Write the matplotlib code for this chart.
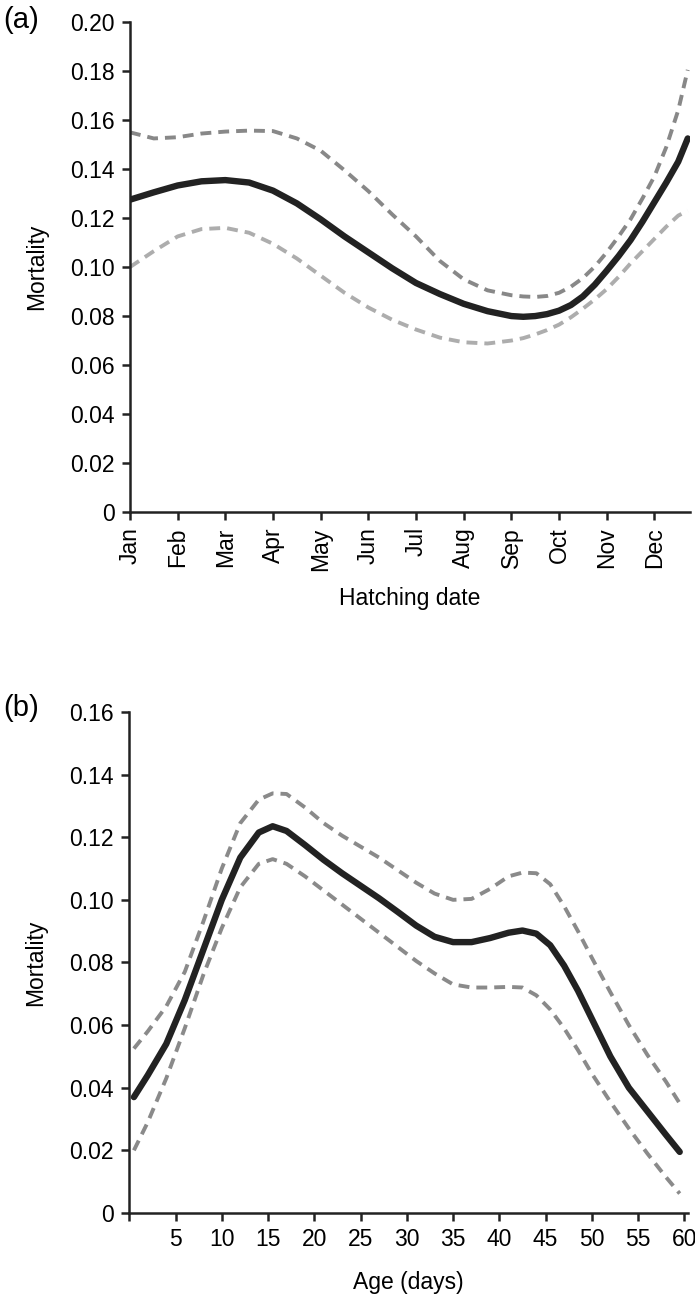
# panel a: mortalidad vs fecha de eclosion, panel b: mortalidad vs edad

import matplotlib.pyplot as plt
import numpy as np

plt.rcParams['font.family'] = ['Liberation Sans', 'DejaVu Sans']

# (a) meses desde el 1 de enero
meses = ['Jan', 'Feb', 'Mar', 'Apr', 'May', 'Jun', 'Jul', 'Aug', 'Sep', 'Oct', 'Nov', 'Dec']
x_a = [0, 0.5, 1, 1.5, 2, 2.5, 3, 3.5, 4, 4.5, 5, 5.5, 6, 6.5, 7, 7.5,
       8, 8.25, 8.5, 8.75, 9, 9.25, 9.5, 9.75, 10, 10.25, 10.5, 10.75, 11, 11.25, 11.5, 11.7]
media_a = [0.1275, 0.1305, 0.1333, 0.1350, 0.1355, 0.1345, 0.1312, 0.1260, 0.1195,
           0.1125, 0.1060, 0.0995, 0.0935, 0.0890, 0.0850, 0.0820,
           0.0800, 0.0797, 0.0800, 0.0808, 0.0822, 0.0845, 0.0880, 0.0928, 0.0985,
           0.1045, 0.1110, 0.1185, 0.1265, 0.1345, 0.1430, 0.1525]
sup_a = [0.155, 0.1525, 0.153, 0.1545, 0.1553, 0.1557, 0.1555, 0.1525, 0.1475,
         0.1395, 0.1310, 0.1215, 0.1125, 0.1025, 0.0950, 0.0905,
         0.0885, 0.0880, 0.0878, 0.0882, 0.0895, 0.0920, 0.0955, 0.1002, 0.1060,
         0.1125, 0.1195, 0.1280, 0.1370, 0.1490, 0.1640, 0.1805]
inf_a = [0.100, 0.1065, 0.1125, 0.1155, 0.1160, 0.1140, 0.1095, 0.1035, 0.0965,
         0.0895, 0.0835, 0.0785, 0.0745, 0.0712, 0.0693, 0.0688,
         0.0700, 0.0710, 0.0725, 0.0743, 0.0765, 0.0795, 0.0830, 0.0868, 0.0910,
         0.0960, 0.1015, 0.1065, 0.1115, 0.1165, 0.1210, 0.1230]

# (b) edad en dias
edad = [0.5, 2, 4, 6, 8, 10, 12, 14, 15.5, 17, 19, 21, 23, 25, 27, 29, 31, 33, 35,
        37, 39, 41, 42.5, 44, 45.5, 47, 48.5, 50, 52, 54, 56, 58, 59.5]
media_b = [0.037, 0.044, 0.054, 0.068, 0.084, 0.100, 0.1135, 0.1215, 0.1235, 0.122,
           0.1175, 0.1128, 0.1085, 0.1045, 0.1005, 0.0962, 0.0918, 0.0882, 0.0865,
           0.0865, 0.0878, 0.0895, 0.0902, 0.0892, 0.0855, 0.0790, 0.0710, 0.0620,
           0.0500, 0.0400, 0.0325, 0.0250, 0.0195]
sup_b = [0.0525, 0.058, 0.066, 0.077, 0.093, 0.110, 0.1245, 0.1320, 0.1340, 0.1338,
         0.1295, 0.1245, 0.1205, 0.1170, 0.1135, 0.1095, 0.1055, 0.1020, 0.1000,
         0.1003, 0.1035, 0.1075, 0.1087, 0.1085, 0.1050, 0.0980, 0.0900, 0.0815,
         0.0705, 0.0600, 0.0505, 0.0420, 0.0350]
inf_b = [0.020, 0.029, 0.043, 0.059, 0.076, 0.091, 0.104, 0.1115, 0.1130, 0.1115,
         0.1075, 0.1030, 0.0985, 0.0940, 0.0895, 0.0850, 0.0805, 0.0765, 0.0730,
         0.0720, 0.0720, 0.0722, 0.0720, 0.0695, 0.0650, 0.0590, 0.0520, 0.0445,
         0.0355, 0.0270, 0.0190, 0.0115, 0.0062]

ticks_a = [0, 0.02, 0.04, 0.06, 0.08, 0.10, 0.12, 0.14, 0.16, 0.18, 0.20]
ticks_b = [0, 0.02, 0.04, 0.06, 0.08, 0.10, 0.12, 0.14, 0.16]
dias = [0, 5, 10, 15, 20, 25, 30, 35, 40, 45, 50, 55, 60]

fig = plt.figure(figsize=(6.95, 12.98), dpi=100)
ax1 = fig.add_axes([0.187, 0.6055, 0.806, 0.3775])
ax2 = fig.add_axes([0.186, 0.0655, 0.804, 0.386])

gris = '#8a8a8a'
guiones = (0, (2.8, 1.8))

ax1.plot(x_a, sup_a, color='#888888', lw=2.8, linestyle=guiones)
ax1.plot(x_a, inf_a, color='#adadad', lw=2.8, linestyle=guiones)
ax1.plot(x_a, media_a, color='#222222', lw=4.6, solid_capstyle='round', solid_joinstyle='round')

ax2.plot(edad, sup_b, color=gris, lw=2.8, linestyle=guiones)
ax2.plot(edad, inf_b, color=gris, lw=2.8, linestyle=guiones)
ax2.plot(edad, media_b, color='#222222', lw=4.6, solid_capstyle='round', solid_joinstyle='round')

for ax in (ax1, ax2):
    ax.spines['top'].set_visible(False)
    ax.spines['right'].set_visible(False)
    ax.spines['left'].set_linewidth(1.8)
    ax.spines['bottom'].set_linewidth(1.8)
    ax.spines['left'].set_color('#222222')
    ax.spines['bottom'].set_color('#222222')
    ax.tick_params(direction='out', length=6, width=1.8, labelsize=16.5, color='#222222', pad=5)
    ax.set_ylabel('Mortality', fontsize=16.5, labelpad=16)

ax1.set_xlim(0, 11.75)
ax1.set_ylim(0, 0.20)
ax1.set_yticks(ticks_a)
ax1.set_yticklabels(['0'] + ['%.2f' % t for t in ticks_a[1:]])
ax1.set_xticks(range(12))
ax1.set_xticklabels(meses, rotation=90)
ax1.set_xlabel('Hatching date', fontsize=16.5, labelpad=12)

ax2.set_xlim(0, 60.4)
ax2.set_ylim(0, 0.16)
ax2.set_yticks(ticks_b)
ax2.set_yticklabels(['0'] + ['%.2f' % t for t in ticks_b[1:]])
ax2.set_xticks(dias)
ax2.set_xticklabels([''] + [str(d) for d in dias[1:]])
ax2.set_xlabel('Age (days)', fontsize=16.5, labelpad=14)

fig.text(0.005, 0.995, '(a)', fontsize=21, va='top')
fig.text(0.005, 0.465, '(b)', fontsize=21, va='top')

fig.savefig('out.png', dpi=100)
